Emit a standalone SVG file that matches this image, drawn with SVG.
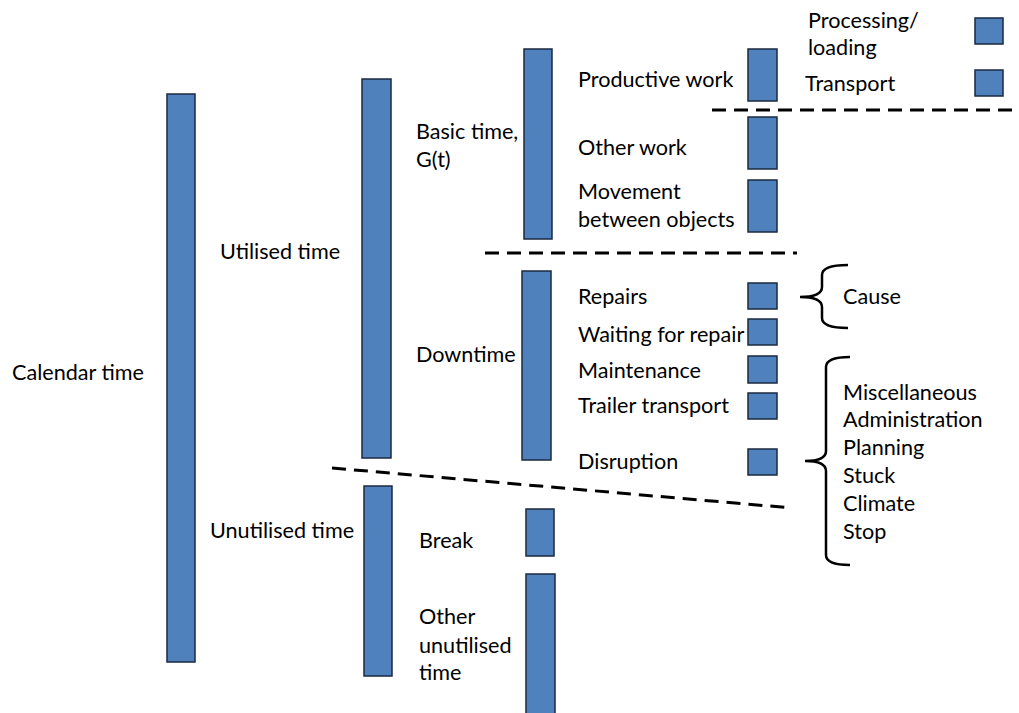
<svg xmlns="http://www.w3.org/2000/svg" width="1019" height="713" viewBox="0 0 1019 713">
<style>
.bar{fill:#4F81BD;stroke:#1a2a40;stroke-width:1.5}
.t{font-family:Lato,"Open Sans","Liberation Sans",sans-serif;font-size:21.6px;fill:#000}
.dash{stroke:#000;stroke-width:3;stroke-dasharray:14 8;fill:none}
.brace{stroke:#000;stroke-width:2.5;fill:none}
</style>
<rect width="1019" height="713" fill="#fff"/>
<g id="calendar"><rect class="bar" x="167" y="94" width="28" height="568"/><text class="t" x="12" y="380">Calendar time</text></g>
<g id="utilised"><rect class="bar" x="362" y="79" width="29" height="379"/><text class="t" x="220" y="259">Utilised time</text></g>
<g id="unutilised"><rect class="bar" x="364" y="486" width="28" height="190"/><text class="t" x="210" y="538">Unutilised time</text></g>
<g id="basic"><rect class="bar" x="524" y="49" width="28" height="190"/><text class="t" x="416" y="139">Basic time,</text><text class="t" x="416" y="167">G(t)</text></g>
<g id="downtime"><rect class="bar" x="522" y="271" width="29" height="189"/><text class="t" x="416" y="362">Downtime</text></g>
<g id="break"><rect class="bar" x="526" y="509" width="28" height="47"/><text class="t" x="419" y="548">Break</text></g>
<g id="otherunutilised"><rect class="bar" x="526" y="574" width="29" height="145"/><text class="t" x="419" y="624">Other</text><text class="t" x="419" y="653">unutilised</text><text class="t" x="419" y="680">time</text></g>
<g id="productive"><rect class="bar" x="748" y="49" width="29" height="52"/><text class="t" x="578" y="87">Productive work</text></g>
<g id="otherwork"><rect class="bar" x="748" y="117" width="29" height="52"/><text class="t" x="578" y="155">Other work</text></g>
<g id="movement"><rect class="bar" x="748" y="180" width="29" height="52"/><text class="t" x="578" y="199">Movement</text><text class="t" x="578" y="227">between objects</text></g>
<g id="processing"><rect class="bar" x="975" y="18" width="28" height="26"/><text class="t" x="808" y="28">Processing/</text><text class="t" x="808" y="55">loading</text></g>
<g id="transport"><rect class="bar" x="975" y="70" width="28" height="26"/><text class="t" x="805" y="91">Transport</text></g>
<g id="repairs"><rect class="bar" x="748" y="283" width="29" height="26"/><text class="t" x="578" y="304">Repairs</text></g>
<g id="waiting"><rect class="bar" x="748" y="319" width="29" height="26"/><text class="t" x="578" y="342">Waiting for repair</text></g>
<g id="maintenance"><rect class="bar" x="748" y="356" width="29" height="27"/><text class="t" x="578" y="378">Maintenance</text></g>
<g id="trailer"><rect class="bar" x="748" y="393" width="29" height="26"/><text class="t" x="578" y="413">Trailer transport</text></g>
<g id="disruption"><rect class="bar" x="748" y="449" width="29" height="26"/><text class="t" x="578" y="469">Disruption</text></g>
<g id="cause"><path class="brace" d="M848,265 Q822,265 822,275 L822,287 Q822,297 800,297 Q822,297 822,307 L822,318 Q822,328 848,328"/><text class="t" x="843" y="304">Cause</text></g>
<g id="causes"><path class="brace" d="M850,357 Q826,357 826,367 L826,451 Q826,461 805,461 Q826,461 826,471 L826,555 Q826,565 850,565"/>
<text class="t" x="843" y="400">Miscellaneous</text><text class="t" x="843" y="427">Administration</text><text class="t" x="843" y="455">Planning</text><text class="t" x="843" y="483">Stuck</text><text class="t" x="843" y="511">Climate</text><text class="t" x="843" y="539">Stop</text></g>
<g id="connectors">
<line class="dash" x1="712" y1="110" x2="1019" y2="110"/>
<line class="dash" x1="485" y1="253" x2="797" y2="253"/>
<line class="dash" x1="332" y1="468" x2="792" y2="508"/>
</g>
</svg>
